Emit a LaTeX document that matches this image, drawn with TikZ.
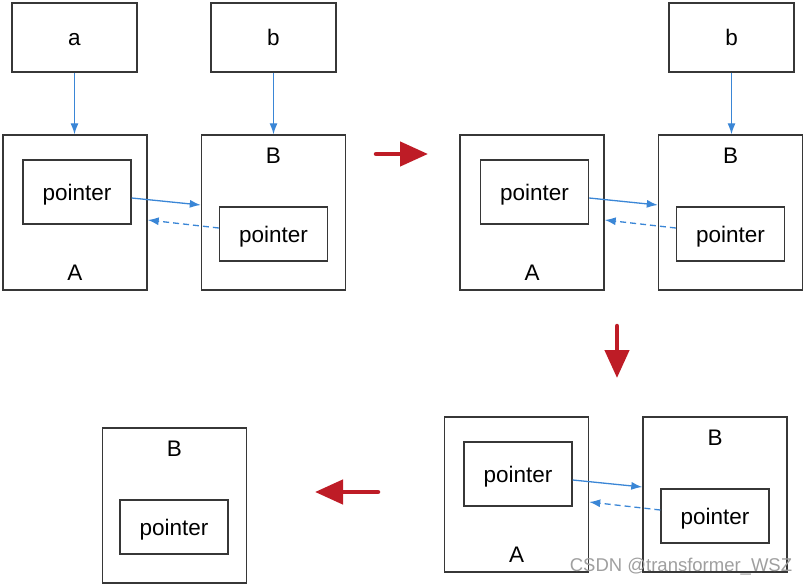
\documentclass[tikz,border=0pt]{standalone}
\usepackage{fontspec}
\setmainfont{Liberation Sans}
\usetikzlibrary{arrows.meta}
\definecolor{linkblue}{RGB}{58,134,214}
\definecolor{movered}{RGB}{190,28,38}
\definecolor{boxgray}{RGB}{55,55,55}

\begin{document}
\begin{tikzpicture}[x=1pt, y=-1pt,
		font=\fontsize{22.5}{26}\selectfont,
		topbox/.style={draw=boxgray, line width=1.4pt, minimum width=125pt, minimum height=69pt, inner sep=0pt, text height=16pt, text depth=0pt},
		outer/.style={draw=boxgray, line width=1.4pt, minimum width=144pt, minimum height=155pt, inner sep=0pt},
		inner/.style={draw=boxgray, line width=1.4pt, minimum width=108pt, minimum height=#1, inner sep=0pt, text height=16pt, text depth=0pt},
		link/.style={linkblue, line width=1.3pt, -{Latex[length=11pt,width=8pt]}},
		back/.style={link, dash pattern=on 6pt off 4pt},
		move/.style={movered, line width=4.5pt, line cap=round, -{Triangle[length=28pt,width=24pt]}}]
	%Bildbereich
	\useasboundingbox (0,0) rectangle (806,586);
	% Ausgangszustand
	\node[topbox] (a) at (74.5,37.5) {a};
	\node[topbox] (b1) at (273.5,37.5) {b};
	\node[outer] (A1) at (75,212.5) {};
	\node[inner=64pt] (pA1) at (77,192) {pointer};
	\node (lA1) at ([yshift=18pt]A1.south) {A};
	\node[outer] (B1) at (273.5,212.5) {};
	\node[inner=54pt] (pB1) at (273.5,234) {pointer};
	\node (lB1) at ([yshift=-21pt]B1.north) {B};
	\draw[link] (a.south) -- (a.south |- A1.north);
	\draw[link] (b1.south) -- (b1.south |- B1.north);
	\draw[link] ([yshift=-6pt]pA1.east) -- ([yshift=7.5pt]B1.west);
	\draw[back] ([yshift=6pt]pB1.west) -- ([yshift=-7.5pt]A1.east);
	% a entfernt
	\node[topbox] (b2) at (731.5,37.5) {b};
	\node[outer] (A2) at (532,212.5) {};
	\node[inner=64pt] (pA2) at (534.5,192) {pointer};
	\node (lA2) at ([yshift=18pt]A2.south) {A};
	\node[outer] (B2) at (730.5,212.5) {};
	\node[inner=54pt] (pB2) at (730.5,234) {pointer};
	\node (lB2) at ([yshift=-21pt]B2.north) {B};
	\draw[link] (b2.south) -- (b2.south |- B2.north);
	\draw[link] ([yshift=-6pt]pA2.east) -- ([yshift=7.5pt]B2.west);
	\draw[back] ([yshift=6pt]pB2.west) -- ([yshift=-7.5pt]A2.east);
	% b entfernt
	\node[outer] (A3) at (516.5,494.5) {};
	\node[inner=64pt] (pA3) at (518,474) {pointer};
	\node (lA3) at ([yshift=18pt]A3.south) {A};
	\node[outer] (B3) at (715,494.5) {};
	\node[inner=54pt] (pB3) at (715,516) {pointer};
	\node (lB3) at ([yshift=-21pt]B3.north) {B};
	\draw[link] ([yshift=-6pt]pA3.east) -- ([yshift=7.5pt]B3.west);
	\draw[back] ([yshift=6pt]pB3.west) -- ([yshift=-7.5pt]A3.east);
	% nur B bleibt
	\node[outer] (B4) at (174.5,505.5) {};
	\node[inner=54pt] (pB4) at (174,527) {pointer};
	\node (lB4) at ([yshift=-21pt]B4.north) {B};
	% Uebergaenge
	\coordinate (m1s) at (376,154);
	\coordinate (m1e) at (428,154);
	\coordinate (m2s) at (617,326);
	\coordinate (m2e) at (617,378);
	\coordinate (m3s) at (378,492);
	\coordinate (m3e) at (315,492);
	\draw[move] (m1s) -- (m1e);
	\draw[move] (m2s) -- (m2e);
	\draw[move] (m3s) -- (m3e);
	% Wasserzeichen
	\node[text=gray!75, font=\fontsize{18.5}{20}\selectfont] (mark) at (681,567) {CSDN @transformer\_WSZ};
\end{tikzpicture}
\end{document}
